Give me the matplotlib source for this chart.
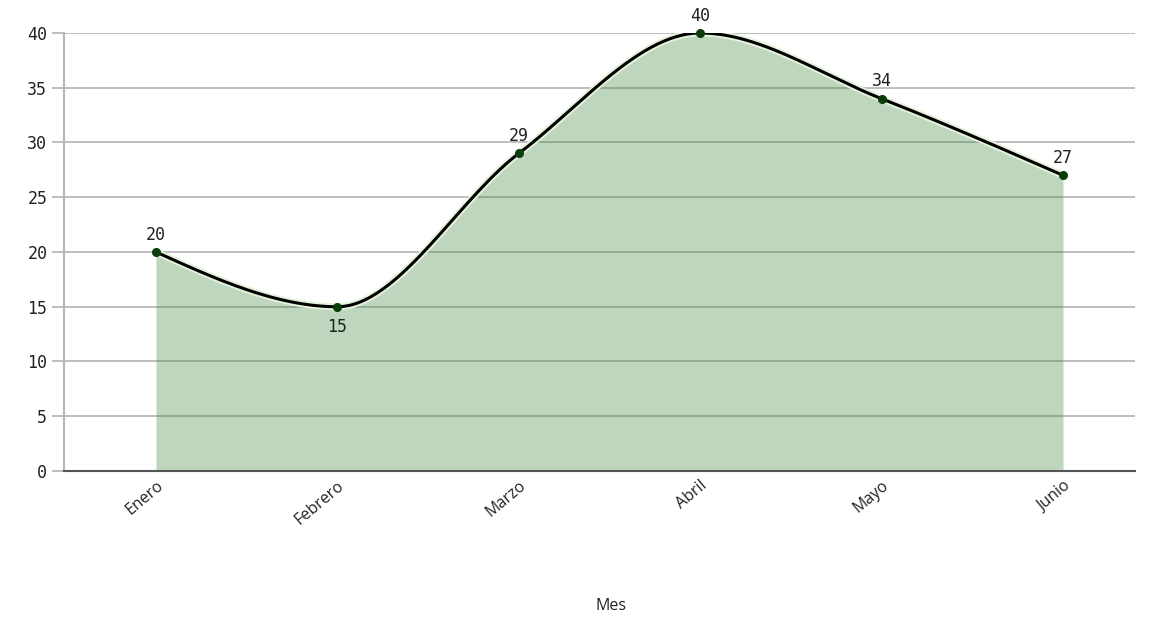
import numpy as np
import matplotlib.pyplot as plt
import matplotlib.patheffects as pe

meses = ["Enero", "Febrero", "Marzo", "Abril", "Mayo", "Junio"]
valores = [20, 15, 29, 40, 34, 27]
y_ticks = [0, 5, 10, 15, 20, 25, 30, 35, 40]


def monotone_tangents(x, y):
    # same rule as d3.curveMonotoneX
    x = np.asarray(x, float)
    y = np.asarray(y, float)
    n = len(x)
    h = np.diff(x)
    s = np.diff(y) / h
    t = np.zeros(n)
    for i in range(1, n - 1):
        p = (s[i - 1] * h[i] + s[i] * h[i - 1]) / (h[i - 1] + h[i])
        t[i] = (np.sign(s[i - 1]) + np.sign(s[i])) * min(abs(s[i - 1]), abs(s[i]), 0.5 * abs(p))
    t[0] = (3 * s[0] - t[1]) / 2
    t[-1] = (3 * s[-1] - t[-2]) / 2
    return t


def smooth(x, y, steps=60):
    x = np.asarray(x, float)
    y = np.asarray(y, float)
    t = monotone_tangents(x, y)
    xs, ys = [], []
    for i in range(len(x) - 1):
        h = x[i + 1] - x[i]
        u = np.linspace(0, 1, steps)
        h00 = 2 * u**3 - 3 * u**2 + 1
        h10 = u**3 - 2 * u**2 + u
        h01 = -2 * u**3 + 3 * u**2
        h11 = u**3 - u**2
        xs.append(x[i] + u * h)
        ys.append(h00 * y[i] + h10 * h * t[i] + h01 * y[i + 1] + h11 * h * t[i + 1])
    return np.concatenate(xs), np.concatenate(ys)


pos = np.arange(len(meses))
xs, ys = smooth(pos, valores)

fig = plt.figure(figsize=(11.53, 6.18), dpi=100)
ax = fig.add_axes([0.0555, 0.2379, 0.9289, 0.7087])

for v in y_ticks[1:]:
    ax.axhline(v, color="#b9b9b9", lw=1.3, zorder=1)

ax.fill_between(xs, 0, ys, color="#3c823c", alpha=0.33, lw=0, zorder=2)
ax.plot(xs, ys, color="black", lw=2.2, zorder=3,
        path_effects=[pe.Stroke(linewidth=5, foreground="#e6f3dc"), pe.Normal()])
ax.plot(pos, valores, "o", color="#0b3d0b", ms=5.5, zorder=4, clip_on=False)

mono = ["DejaVu Sans Mono"]
for i, v in enumerate(valores):
    if i == 1:
        ax.annotate(str(v), (pos[i], v), xytext=(0, -8), textcoords="offset points",
                    ha="center", va="top", fontsize=12, family=mono, color="#222222")
    else:
        ax.annotate(str(v), (pos[i], v), xytext=(0, 6), textcoords="offset points",
                    ha="center", va="bottom", fontsize=12, family=mono, color="#222222")

ax.set_xlim(-0.507, 5.397)
ax.set_ylim(0, 40)
ax.set_yticks(y_ticks)
ax.set_yticklabels([str(v) for v in y_ticks], family=mono, fontsize=12, color="#222222")
ax.set_xticks(pos)
ax.set_xticklabels(meses, rotation=40, ha="right", rotation_mode="anchor",
                   fontsize=11.5, family=["Open Sans", "DejaVu Sans"], color="#222222")
ax.tick_params(axis="x", length=0, pad=5)
ax.tick_params(axis="y", length=9, color="#b9b9b9", width=1.3, pad=3)

for side in ["top", "right"]:
    ax.spines[side].set_visible(False)
ax.spines["left"].set_color("#b9b9b9")
ax.spines["left"].set_linewidth(1.5)
ax.spines["bottom"].set_color("#555555")
ax.spines["bottom"].set_linewidth(1.5)
ax.spines["bottom"].set_zorder(5)

fig.text(611 / 1153, 1 - 606 / 618, "Mes", ha="center", va="center",
         fontsize=11.5, family=["Open Sans", "DejaVu Sans"], color="#222222")

fig.savefig("out.png", dpi=100)
